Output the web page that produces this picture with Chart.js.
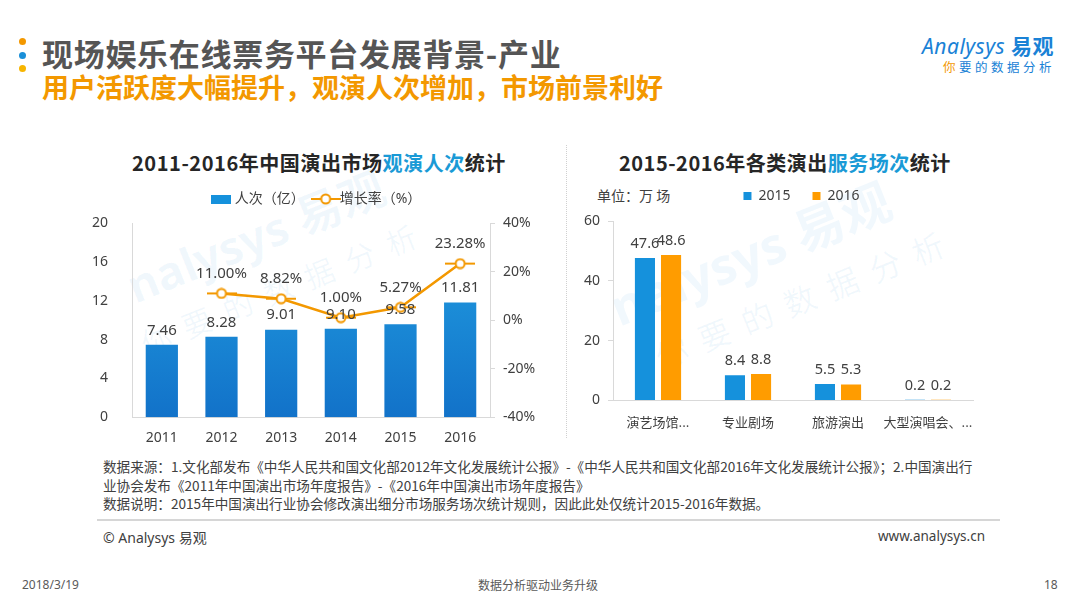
<!DOCTYPE html>
<html>
<head>
<meta charset="utf-8">
<script src="https://cdn.jsdelivr.net/npm/chart.js@4.4.1/dist/chart.umd.min.js"></script>
<style>
  body { margin:0; width:1080px; height:608px; background:#fff; position:relative; overflow:hidden;
         font-family:"Noto Sans","Noto Sans CJK SC",sans-serif; color:#404040; }
  .abs { position:absolute; white-space:nowrap; }
  .dot { position:absolute; width:7px; height:7px; border-radius:50%; left:19px; }
  .wm { position:absolute; white-space:nowrap; color:rgba(20,130,220,0.06); font-weight:bold; transform-origin:left bottom; }
</style>
</head>
<body>
<div class="dot" style="top:38px;background:#f39800"></div>
<div class="dot" style="top:52px;background:#1a8fd8"></div>
<div class="dot" style="top:65px;background:#f7b500"></div>
<div class="abs" style="left:42px;top:30px;font-size:31px;font-weight:bold;color:#555;letter-spacing:0.7px;font-family:'Noto Sans CJK SC'">现场娱乐在线票务平台发展背景-产业</div>
<div class="abs" style="left:42px;top:67px;font-size:27px;font-weight:bold;color:#f39800;font-family:'Noto Sans CJK SC'">用户活跃度大幅提升，观演人次增加，市场前景利好</div>

<div class="abs" style="left:922px;top:30px;font-size:21px;color:#1a82d6;font-style:italic;letter-spacing:0.5px">Analysys <span style="font-style:normal;font-weight:bold;font-family:'Noto Sans CJK SC'">易观</span></div>
<div class="abs" style="left:943px;top:57px;font-size:12.5px;color:#1a82d6;letter-spacing:3.5px;font-family:'Noto Sans CJK SC'"><span style="color:#f39800">你</span>要的数据分析</div>

<div class="wm" style="left:140px;top:250px;font-size:46px;transform:rotate(-22deg)">nalysys 易观</div>
<div class="wm" style="left:150px;top:320px;font-size:30px;letter-spacing:14px;font-weight:normal;transform:rotate(-22deg)">你要的数据分析</div>
<div class="wm" style="left:625px;top:268px;font-size:50px;transform:rotate(-22deg)">nalysys 易观</div>
<div class="wm" style="left:665px;top:332px;font-size:32px;letter-spacing:14px;font-weight:normal;transform:rotate(-22deg)">你要的数据分析</div>

<div class="abs" style="left:132px;top:148px;font-size:20px;font-weight:bold;color:#262626;letter-spacing:0.55px;font-family:'Noto Sans CJK SC'">2011-2016年中国演出市场<span style="color:#1a9ad6">观演人次</span>统计</div>
<div class="abs" style="left:619px;top:148px;font-size:20px;font-weight:bold;color:#262626;letter-spacing:0.5px;font-family:'Noto Sans CJK SC'">2015-2016年各类演出<span style="color:#1a9ad6">服务场次</span>统计</div>
<div class="abs" style="left:597px;top:185px;font-size:14px;color:#404040;font-family:'Noto Sans CJK SC'">单位：万 场</div>

<div style="position:absolute;left:566px;top:145px;height:293px;border-left:1px dotted #d0d0d0"></div>

<div class="abs" style="left:90px;top:178px;width:465px;height:276px"><canvas id="left"></canvas></div>
<div class="abs" style="left:570px;top:167px;width:420px;height:279px"><canvas id="right"></canvas></div>

<div class="abs" style="left:103px;top:457px;font-size:13.6px;line-height:18.5px;color:#404040;font-family:'Noto Sans CJK SC'">数据来源：1.文化部发布《中华人民共和国文化部2012年文化发展统计公报》-《中华人民共和国文化部2016年文化发展统计公报》；2.中国演出行<br>业协会发布《2011年中国演出市场年度报告》-《2016年中国演出市场年度报告》<br>数据说明：2015年中国演出行业协会修改演出细分市场服务场次统计规则，因此此处仅统计2015-2016年数据。</div>
<div style="position:absolute;left:97px;top:519px;width:903px;height:0;border-top:2px solid #d6d6d6"></div>
<div class="abs" style="left:103px;top:527px;font-size:14px;color:#404040">© Analysys <span style="font-family:'Noto Sans CJK SC'">易观</span></div>
<div class="abs" style="left:878px;top:527px;font-size:13.5px;color:#404040">www.analysys.cn</div>

<div class="abs" style="left:22px;top:576px;font-size:12px;color:#595959">2018/3/19</div>
<div class="abs" style="left:478px;top:576px;font-size:12px;color:#595959;font-family:'Noto Sans CJK SC'">数据分析驱动业务升级</div>
<div class="abs" style="left:1044px;top:576px;font-size:12px;color:#595959">18</div>

<script>
// left chart data
const years = ['2011', '2012', '2013', '2014', '2015', '2016'];
const audience = [7.46, 8.28, 9.01, 9.10, 9.58, 11.81];
const growth = [null, 11.00, 8.82, 1.00, 5.27, 23.28];
const leftTicks = [0, 4, 8, 12, 16, 20];
const rightTicks = [-40, -20, 0, 20, 40];

// right chart data
const kinds = ['演艺场馆...', '专业剧场', '旅游演出', '大型演唱会、...'];
const shows2015 = [47.6, 8.4, 5.5, 0.2];
const shows2016 = [48.6, 8.8, 5.3, 0.2];

const ORANGE = '#f39800';
const BLUE = '#1591dc';
const TXT = '#404040';
const FONT = '"Noto Sans", "Noto Sans CJK SC", sans-serif';

// value labels drawn from the element positions
const valueLabels = {
  id: 'valueLabels',
  afterDatasetsDraw(chart) {
    const ctx = chart.ctx;
    const isLeft = chart.canvas.id == 'left';
    chart.data.datasets.forEach((ds, i) => {
      const meta = chart.getDatasetMeta(i);
      meta.data.forEach((el, j) => {
        const v = ds.data[j];
        if (v == null) return;
        const txt = ds.type === 'line' ? v.toFixed(2) + '%' : (isLeft ? v.toFixed(2) : v.toFixed(1));
        ctx.save();
        ctx.font = (isLeft ? '15px ' : '14.5px ') + FONT;
        ctx.fillStyle = TXT;
        ctx.textAlign = 'center';
        ctx.textBaseline = 'bottom';
        ctx.fillText(txt, el.x, el.y - (ds.type === 'line' ? 12 : 7));
        ctx.restore();
      });
    });
  }
};

// extra space under the legend, and a sideways nudge
const legendTweak = {
  id: 'legendTweak',
  beforeLayout(chart) {
    const legend = chart.legend;
    if (!legend || legend._tweaked) return;
    const fit = legend.fit;
    legend.fit = function () {
      fit.call(this);
      const o = chart.options.plugins.legendTweak || {};
      this.height += o.gap || 0;
    };
    legend._tweaked = true;
  },
  afterLayout(chart) {
    const o = chart.options.plugins.legendTweak || {};
    if (chart.legend && o.shift) {
      chart.legend.left += o.shift;
      chart.legend.right += o.shift;
    }
  }
};

function legendIcon(kind) {
  const c = document.createElement('canvas');
  if (kind == 'bar') {
    c.width = 20; c.height = 9;
    const g = c.getContext('2d');
    g.fillStyle = BLUE; g.fillRect(0, 0, 20, 9);
  } else {
    c.width = 30; c.height = 12;
    const g = c.getContext('2d');
    g.strokeStyle = ORANGE; g.lineWidth = 2;
    g.beginPath(); g.moveTo(0, 6); g.lineTo(30, 6); g.stroke();
    g.fillStyle = '#fff'; g.beginPath(); g.arc(15, 6, 4.5, 0, Math.PI * 2); g.fill(); g.stroke();
  }
  return c;
}

function barGradient(context) {
  const area = context.chart.chartArea;
  if (!area) return BLUE;
  const g = context.chart.ctx.createLinearGradient(0, area.top, 0, area.bottom);
  g.addColorStop(0, '#22a0e2');
  g.addColorStop(1, '#1272c9');
  return g;
}

new Chart(document.getElementById('left'), {
  data: {
    labels: years,
    datasets: [
      {
        type: 'line', label: '增长率（%）', data: growth, yAxisID: 'y1',
        borderColor: ORANGE, borderWidth: 2.5, pointRadius: 5, pointBorderWidth: 1.5,
        pointBackgroundColor: '#fff', pointBorderColor: ORANGE, pointStyle: legendIcon('line'),
        tension: 0, order: 0
      },
      {
        type: 'bar', label: '人次（亿）', data: audience, yAxisID: 'y',
        backgroundColor: barGradient, categoryPercentage: 1, barPercentage: 0.54,
        pointStyle: legendIcon('bar'), order: 1
      }
    ]
  },
  options: {
    responsive: true, maintainAspectRatio: false, animation: false,
    layout: { padding: { top: 0, bottom: 4, right: 0 } },
    plugins: {
      legend: {
        reverse: true,
        labels: {
          usePointStyle: true, color: TXT, padding: 14,
          font: { size: 14, family: FONT }
        }
      },
      legendTweak: { gap: 7, shift: -5 },
      tooltip: { enabled: false }
    },
    scales: {
      x: {
        grid: { display: false },
        border: { color: '#d9d9d9' },
        ticks: { color: TXT, font: { size: 14, family: FONT }, padding: 4 }
      },
      y: {
        position: 'left', min: 0, max: 20,
        afterBuildTicks: s => { s.ticks = leftTicks.map(v => ({ value: v })); },
        afterFit: s => { s.width = 42; },
        grid: { display: false },
        border: { color: '#d9d9d9' },
        ticks: { color: TXT, font: { size: 14, family: FONT }, padding: 16 }
      },
      y1: {
        position: 'right', min: -40, max: 40,
        afterBuildTicks: s => { s.ticks = rightTicks.map(v => ({ value: v })); },
        afterFit: s => { s.width = 65; },
        grid: { drawOnChartArea: false, tickLength: 5, color: '#d9d9d9' },
        border: { color: '#d9d9d9' },
        ticks: { color: TXT, font: { size: 14, family: FONT }, padding: 8, callback: v => v + '%' }
      }
    }
  },
  plugins: [valueLabels, legendTweak]
});

new Chart(document.getElementById('right'), {
  type: 'bar',
  data: {
    labels: kinds,
    datasets: [
      { label: '2015', data: shows2015, backgroundColor: BLUE, categoryPercentage: 0.58, barPercentage: 0.77 },
      { label: '2016', data: shows2016, backgroundColor: '#ff9c00', categoryPercentage: 0.58, barPercentage: 0.77 }
    ]
  },
  options: {
    responsive: true, maintainAspectRatio: false, animation: false,
    layout: { padding: { top: 0, bottom: 10, right: 17, left: 0 } },
    plugins: {
      legend: {
        labels: {
          boxWidth: 8, boxHeight: 8, color: TXT, padding: 22,
          font: { size: 14, family: FONT }
        }
      },
      legendTweak: { gap: 8, shift: 30 },
      tooltip: { enabled: false }
    },
    scales: {
      x: {
        grid: { display: false },
        border: { color: '#d9d9d9' },
        ticks: { color: TXT, font: { size: 13, family: '"Noto Sans CJK SC", sans-serif' }, padding: 6,
                 maxRotation: 0, minRotation: 0, autoSkip: false }
      },
      y: {
        min: 0, max: 60,
        ticks: { stepSize: 20, color: TXT, font: { size: 14, family: FONT }, padding: 8 },
        afterFit: s => { s.width = 43; },
        grid: { drawOnChartArea: false, tickLength: 5, color: '#d9d9d9' },
        border: { color: '#d9d9d9' }
      }
    }
  },
  plugins: [valueLabels, legendTweak]
});
</script>
</body>
</html>
